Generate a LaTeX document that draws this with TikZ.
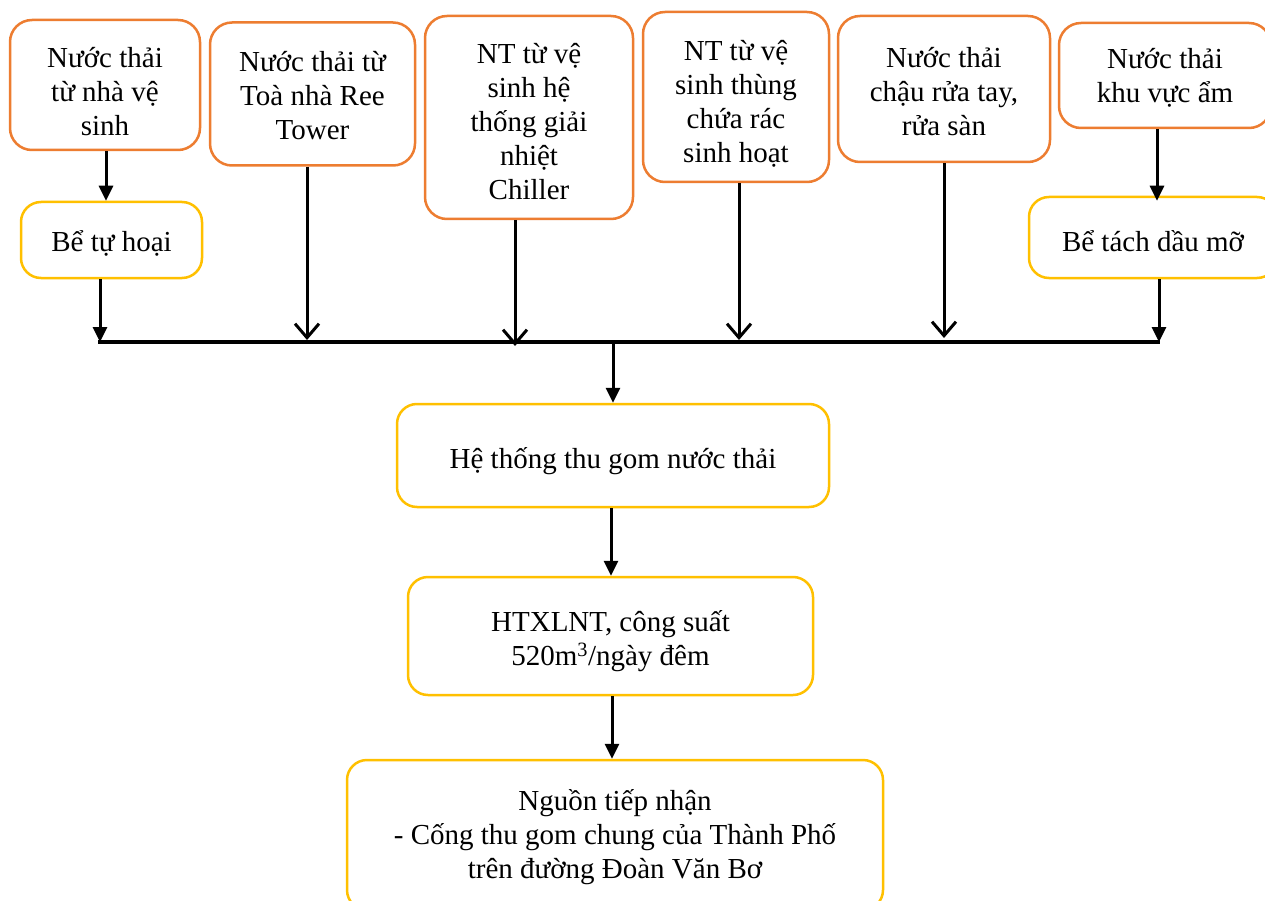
\documentclass[tikz,border=0pt]{standalone}
\usepackage{fontspec}
\setmainfont{Liberation Serif}
\usetikzlibrary{arrows.meta}
\definecolor{boxorange}{HTML}{ED7D31}
\definecolor{boxyellow}{HTML}{FFC000}
\newcommand\btxt[2][6pt]{\raisebox{-#1}[\height][\depth]{\begin{tabular}{@{}c@{}}#2\end{tabular}}}
\tikzset{
  basebox/.style={line width=2.5pt, fill=white, inner sep=0pt,
    font=\fontsize{29}{34}\selectfont},
  srcbox/.style={basebox, draw=boxorange, rounded corners=22pt},
  tankbox/.style={basebox, draw=boxyellow, rounded corners=20pt},
  fillarrow/.style={line width=3pt, -{Triangle[length=15pt,width=14pt]}},
  openarrow/.style={line width=3pt, -{Straight Barb[length=14pt,width=24pt,line width=3pt]}},
  busline/.style={line width=4pt}
}
\begin{document}
\begin{tikzpicture}[x=1pt,y=-1pt]
\useasboundingbox (0,0) rectangle (1265,901);
\clip (0,0) rectangle (1265,901);
\fill[white] (0,0) rectangle (1265,901);

% source boxes
\node[srcbox, minimum width=190pt, minimum height=130pt] (s1) at (105,85) {\btxt[10pt]{Nước thải\\từ nhà vệ\\sinh}};
\node[srcbox, minimum width=205pt, minimum height=143pt] (s2) at (312.5,94) {\btxt[5pt]{Nước thải từ\\Toà nhà Ree\\Tower}};
\node[srcbox, minimum width=208pt, minimum height=203pt] (s3) at (529,117.5) {\btxt[7pt]{NT từ vệ\\sinh hệ\\thống giải\\nhiệt\\Chiller}};
\node[srcbox, minimum width=186pt, minimum height=170pt] (s4) at (736,97) {\btxt[8pt]{NT từ vệ\\sinh thùng\\chứa rác\\sinh hoạt}};
\node[srcbox, minimum width=212pt, minimum height=146pt] (s5) at (944,89) {\btxt[6pt]{Nước thải\\chậu rửa tay,\\rửa sàn}};
\node[srcbox, minimum width=212pt, minimum height=105pt] (s6) at (1165,75.5) {\btxt[3pt]{Nước thải\\khu vực ẩm}};

% pre-treatment tanks
\node[tankbox, minimum width=181pt, minimum height=76pt] (t1) at (111.5,240) {\btxt[5pt]{Bể tự hoại}};
\node[tankbox, minimum width=248pt, minimum height=81pt] (t2) at (1153,237.5) {\btxt[7pt]{Bể tách dầu mỡ}};

% main chain
\node[tankbox, minimum width=432pt, minimum height=103pt] (collect) at (613,455.5) {\btxt[6pt]{Hệ thống thu gom nước thải}};
\node[tankbox, minimum width=405pt, minimum height=118pt] (plant) at (610.5,636) {\btxt[6pt]{HTXLNT, công suất\\520m\textsuperscript{3}/ngày đêm}};
\node[tankbox, minimum width=536pt, minimum height=150pt] (recv) at (615,835) {\btxt[3pt]{Nguồn tiếp nhận\\- Cống thu gom chung của Thành Phố\\trên đường Đoàn Văn Bơ}};

% bus
\coordinate (busL) at (98,342);
\coordinate (busR) at (1160,342);
\draw[busline] (busL) -- (busR);

\coordinate (b1) at (100,342);
\coordinate (b2) at (307,340);
\coordinate (b3) at (515,346);
\coordinate (b4) at (739,340);
\coordinate (b5) at (944,338);
\coordinate (b6) at (1159,342);
\coordinate (bout) at (613,342);
\coordinate (a1) at (106,0);
\coordinate (a6) at (1157,0);
\coordinate (a9) at (611,0);
\coordinate (a10) at (612,0);

% arrows
\draw[fillarrow] (a1 |- s1.south) -- (a1 |- t1.north);
\draw[fillarrow] (b1 |- t1.south) -- (b1);
\draw[openarrow] (b2 |- s2.south) -- (b2);
\draw[openarrow] (b3 |- s3.south) -- (b3);
\draw[openarrow] (b4 |- s4.south) -- (b4);
\draw[openarrow] (b5 |- s5.south) -- (b5);
\draw[fillarrow] (a6 |- s6.south) -- ([yshift=-5pt]a6 |- t2.north);
\draw[fillarrow] (b6 |- t2.south) -- (b6);
\draw[fillarrow] (bout) -- (collect.north);
\draw[fillarrow] (a9 |- collect.south) -- (a9 |- plant.north);
\draw[fillarrow] (a10 |- plant.south) -- (a10 |- recv.north);
\end{tikzpicture}
\end{document}
